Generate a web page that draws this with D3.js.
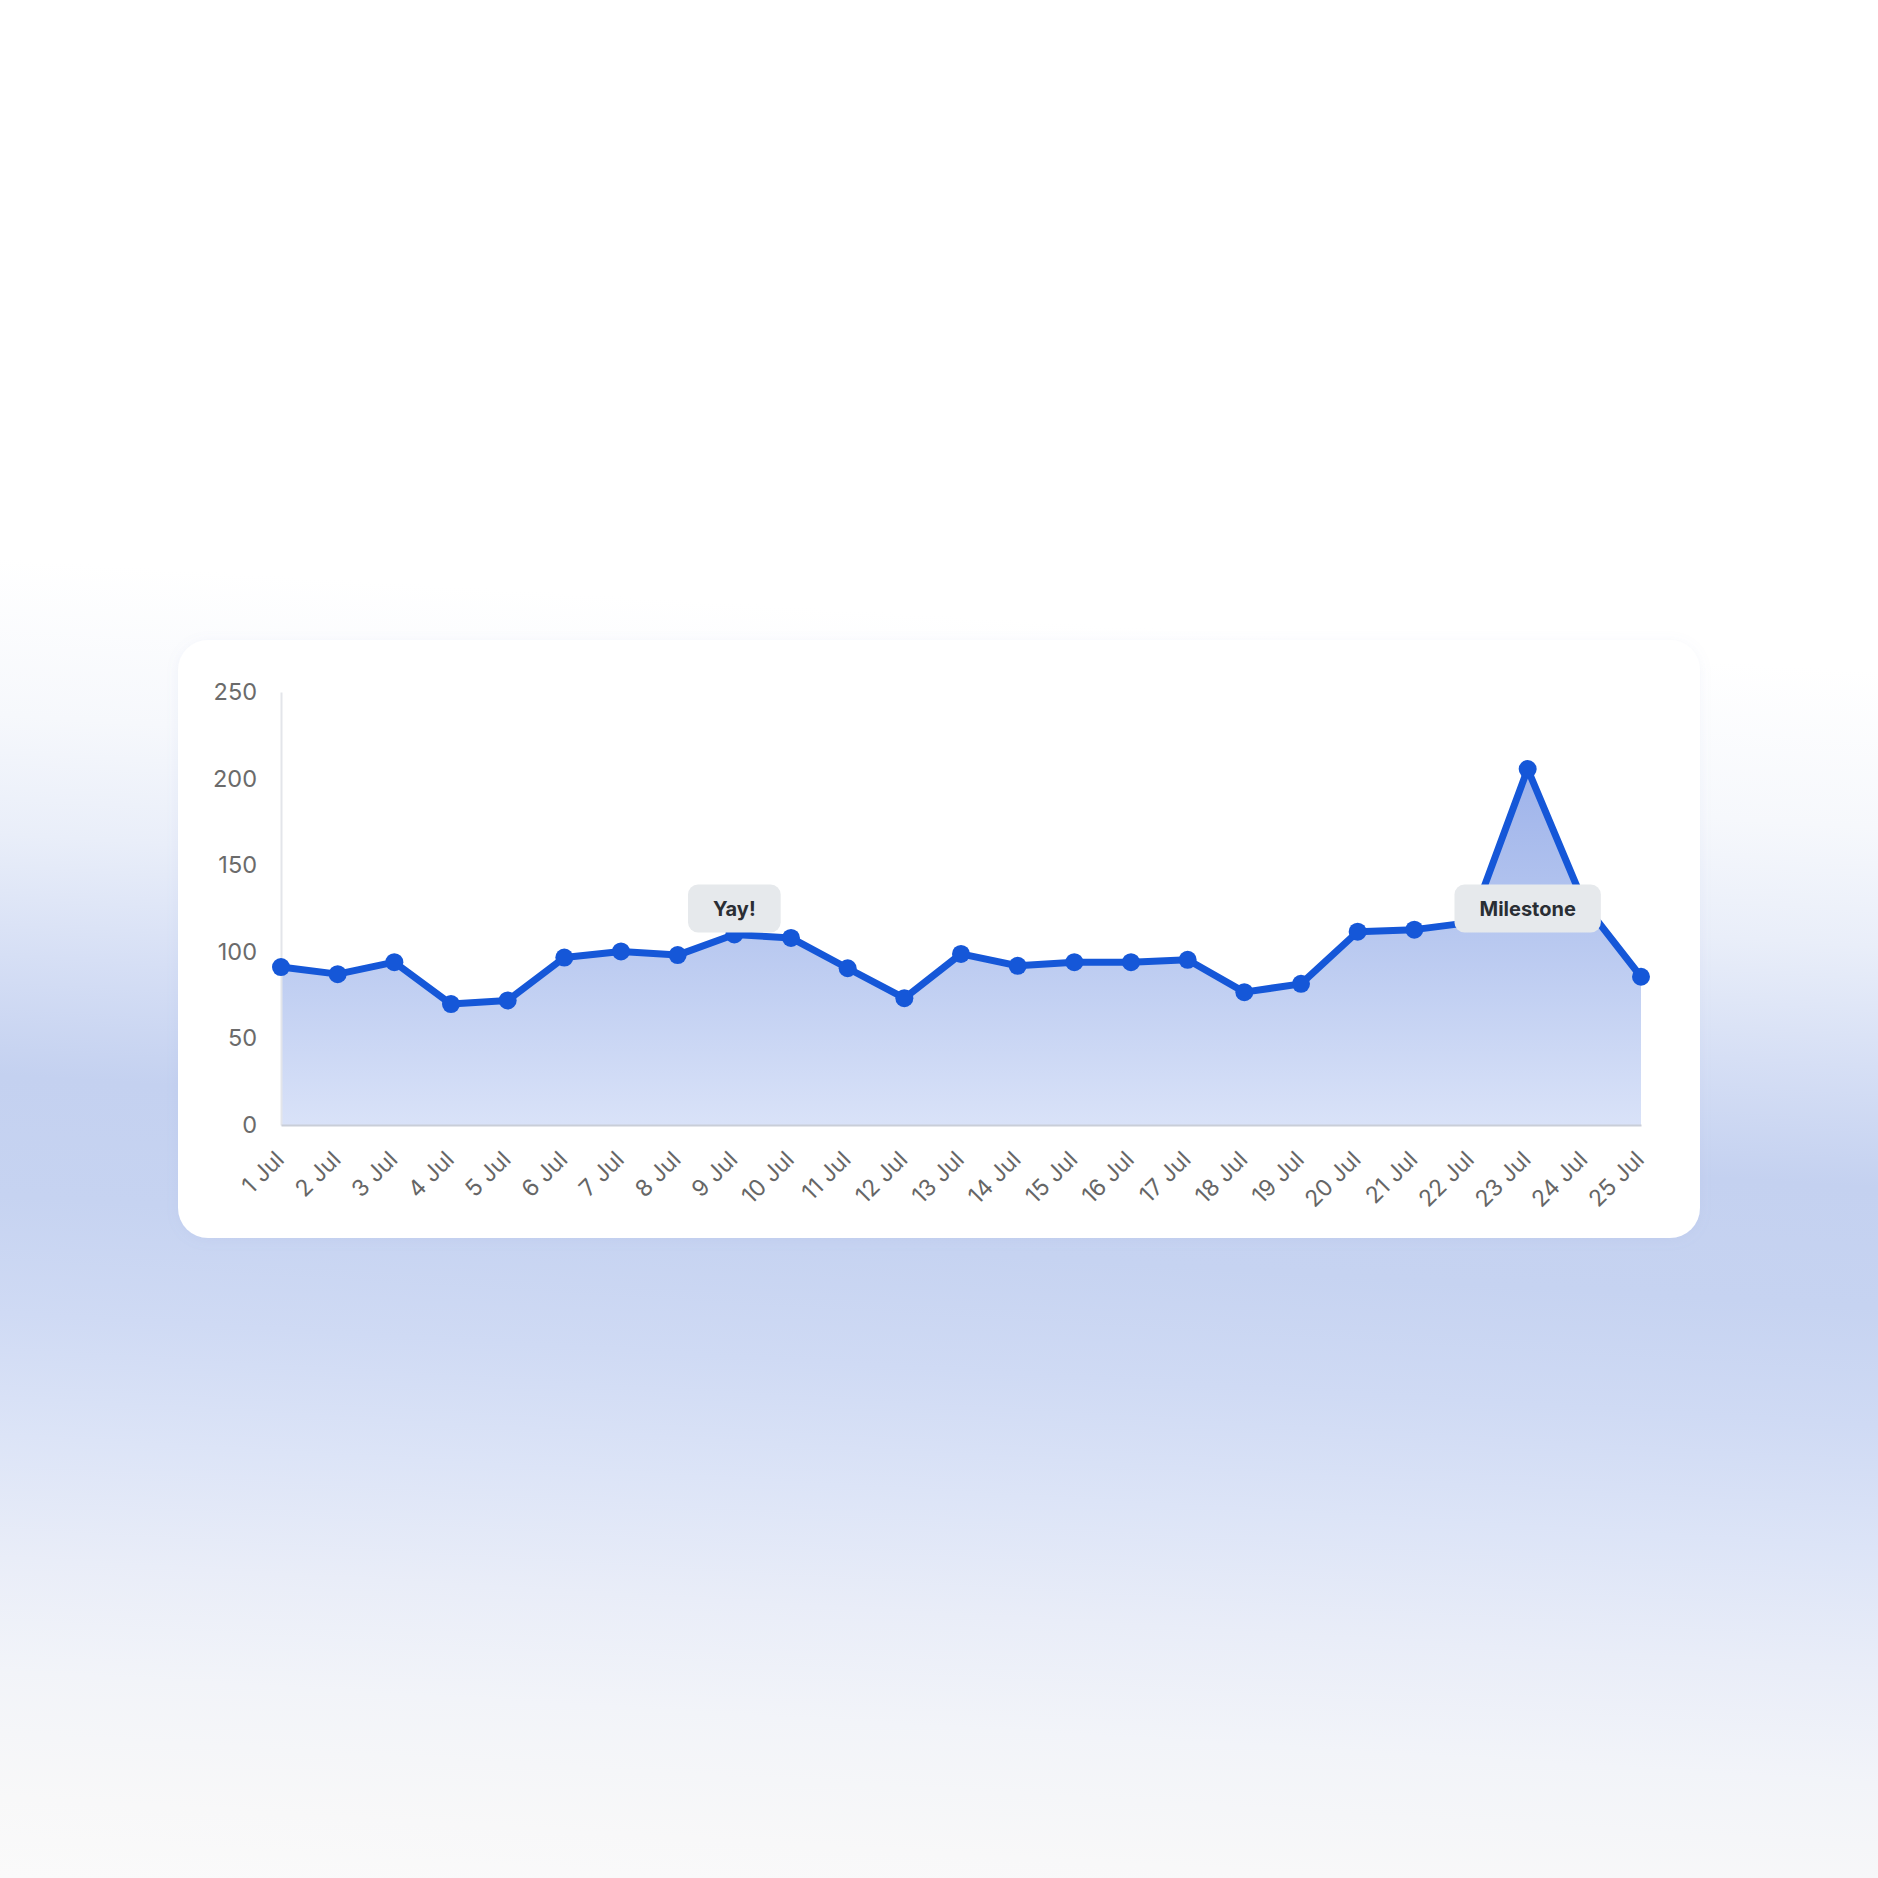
<!DOCTYPE html>
<html>
<head>
<meta charset="utf-8">
<script src="https://cdn.jsdelivr.net/npm/d3@7/dist/d3.min.js"></script>
<style>
  html, body { margin: 0; padding: 0; background: #ffffff; }
  svg { display: block; }
</style>
</head>
<body>
<svg id="chart" width="1878" height="1878"></svg>
<script>
// ---- data ----
const categories = ["1 Jul","2 Jul","3 Jul","4 Jul","5 Jul","6 Jul","7 Jul","8 Jul","9 Jul","10 Jul",
  "11 Jul","12 Jul","13 Jul","14 Jul","15 Jul","16 Jul","17 Jul","18 Jul","19 Jul","20 Jul",
  "21 Jul","22 Jul","23 Jul","24 Jul","25 Jul"];
const values = [91.2, 87.1, 94.0, 69.8, 71.9, 96.7, 100.2, 98.1, 110, 108,
  90.5, 73.2, 98.8, 91.9, 94.0, 94.0, 95.4, 76.7, 81.5, 111.6,
  112.8, 117, 205.5, 127.5, 85.6];
const yTicks = [0, 50, 100, 150, 200, 250];
const annotations = [
  { category: "9 Jul", text: "Yay!", level: 125 },
  { category: "23 Jul", text: "Milestone", level: 125 }
];

// ---- layout ----
const W = 1878, H = 1878;
const card = { x: 178, y: 640, w: 1522, h: 598, r: 30 };
const plot = { left: 281, right: 1641, top: 692, bottom: 1125 };

const svg = d3.select("#chart");
const defs = svg.append("defs");

// background gradient (blue band, slightly higher on the left)
const bg = defs.append("linearGradient").attr("id", "bg")
  .attr("x1", "0.06").attr("y1", "0").attr("x2", "0").attr("y2", "1");
[[0, "#ffffff"], [0.30, "#ffffff"], [0.383, "#f6f8fc"], [0.446, "#e9eef9"], [0.51, "#d6dff5"],
 [0.574, "#c4d1f0"], [0.638, "#c6d3f1"], [0.70, "#cfdaf4"], [0.765, "#dce4f7"], [0.83, "#e9edf8"],
 [0.89, "#f2f4f9"], [0.957, "#f8f8f9"], [1, "#fafafa"]]
  .forEach(([o, c]) => bg.append("stop").attr("offset", o).attr("stop-color", c));

svg.append("rect").attr("width", W).attr("height", H).attr("fill", "url(#bg)");

// card shadow
const sh = defs.append("filter").attr("id", "shadow").attr("x", "-10%").attr("y", "-10%").attr("width", "120%").attr("height", "130%");
sh.append("feDropShadow").attr("dx", 0).attr("dy", 2).attr("stdDeviation", 6)
  .attr("flood-color", "#8fa3d6").attr("flood-opacity", 0.10);

svg.append("rect")
  .attr("x", card.x).attr("y", card.y).attr("width", card.w).attr("height", card.h)
  .attr("rx", card.r).attr("ry", card.r)
  .attr("fill", "#ffffff").attr("filter", "url(#shadow)");

// scales
const x = d3.scalePoint().domain(categories).range([plot.left, plot.right]);
const y = d3.scaleLinear().domain([0, 250]).range([plot.bottom, plot.top]);

// area gradient
const ag = defs.append("linearGradient").attr("id", "areaGrad")
  .attr("gradientUnits", "userSpaceOnUse")
  .attr("x1", 0).attr("x2", 0).attr("y1", y(210)).attr("y2", y(0));
[[0, "#9db2ea"], [0.5, "#b9c9f0"], [1, "#d9e2f8"]]
  .forEach(([o, c]) => ag.append("stop").attr("offset", o).attr("stop-color", c));

const data = categories.map((c, i) => ({ c, v: values[i] }));

svg.append("path").datum(data)
  .attr("fill", "url(#areaGrad)")
  .attr("d", d3.area().x(d => x(d.c)).y0(y(0)).y1(d => y(d.v)));

// axes
const yAxis = svg.append("g").attr("transform", `translate(${plot.left},0)`)
  .call(d3.axisLeft(y).tickValues(yTicks).tickSize(0).tickPadding(24));
yAxis.select(".domain").attr("stroke", "#e3e5ea").attr("stroke-width", 2);
yAxis.selectAll("text")
  .attr("font-family", "Inter, 'Noto Sans', sans-serif")
  .attr("font-size", 23.5).attr("fill", "#6b6b6b");

const xAxis = svg.append("g").attr("transform", `translate(0,${plot.bottom})`)
  .call(d3.axisBottom(x).tickSize(0).tickPadding(0));
xAxis.select(".domain").attr("stroke", "#c9ced8").attr("stroke-width", 2);
xAxis.selectAll(".tick text")
  .attr("font-family", "Inter, 'Noto Sans', sans-serif")
  .attr("font-size", 23).attr("fill", "#666666")
  .attr("text-anchor", "end")
  .attr("dy", 0)
  .attr("transform", "translate(4,36) rotate(-45)");

// line
svg.append("path").datum(data)
  .attr("fill", "none")
  .attr("stroke", "#1557d8")
  .attr("stroke-width", 7)
  .attr("stroke-linejoin", "round")
  .attr("stroke-linecap", "round")
  .attr("d", d3.line().x(d => x(d.c)).y(d => y(d.v)));

// points
svg.append("g").selectAll("circle").data(data).join("circle")
  .attr("cx", d => x(d.c)).attr("cy", d => y(d.v)).attr("r", 9)
  .attr("fill", "#1557d8");

// annotations
const ann = svg.append("g").selectAll("g").data(annotations).join("g")
  .attr("transform", d => `translate(${x(d.category)},${y(d.level)})`);
ann.append("text")
  .attr("text-anchor", "middle").attr("dy", "0.36em")
  .attr("font-family", "Inter, 'Noto Sans', sans-serif")
  .attr("font-size", 20).attr("font-weight", 700).attr("fill", "#2a2e34")
  .text(d => d.text);
ann.each(function() {
  const g = d3.select(this);
  const t = g.select("text");
  const bw = t.node().getComputedTextLength() + 50;
  const bh = 48;
  g.insert("rect", "text")
    .attr("x", -bw / 2).attr("y", -bh / 2).attr("width", bw).attr("height", bh)
    .attr("rx", 10).attr("ry", 10)
    .attr("fill", "#e6e9ec");
});
</script>
</body>
</html>
